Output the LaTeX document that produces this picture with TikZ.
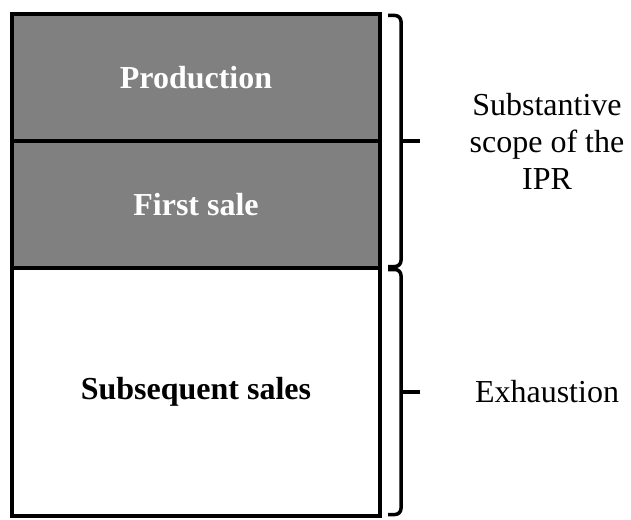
\documentclass[tikz,border=0pt]{standalone}
\usepackage{fontspec}
\setmainfont{Liberation Serif}
\usetikzlibrary{positioning,calc}
\tikzset{
    stage-box/.style = {draw=black, line width=3.5pt, rectangle, minimum width=368pt, outer sep=0pt, inner sep=0pt, font=\fontsize{32}{38}\selectfont\bfseries},
    stage-shaded/.style = {stage-box, fill=gray, text=white, minimum height=127pt},
    side-label/.style = {align=center, font=\fontsize{32}{37}\selectfont},
    brace-line/.style = {draw=black, line width=3.5pt, rounded corners=6pt},
}

\begin{document}
\begin{tikzpicture}[x=1pt, y=-1pt]
\useasboundingbox (0,0) rectangle (631,519);
\node[stage-shaded] (prod) at (196,77.5) {Production};
\node[stage-shaded, below=0pt of prod] (first) {First sale};
\node[stage-box, fill=white, minimum height=248pt, below=0pt of first] (later) {Subsequent sales};
% braces on the right
\coordinate (top-a) at ($(prod.north east)+(8,1.5)$);
\coordinate (top-b) at ($(first.south east)+(8,-1.5)$);
\coordinate (low-a) at ($(later.north east)+(8,1.5)$);
\coordinate (low-b) at ($(later.south east)+(8,-1.5)$);
\draw[brace-line] (top-a) -- ++(13,0) |- (top-b);
\draw[brace-line] (low-a) -- ++(13,0) |- (low-b);
\coordinate (tip-a) at ($(prod.south east)+(21,0)$);
\coordinate (tip-b) at ($(later.east)+(21,0)$);
\draw[brace-line] (tip-a) -- ++(19,0);
\draw[brace-line] (tip-b) -- ++(19,0);
\node[side-label] (scope) at ($(tip-a)+(146,0)$) {Substantive\\scope of the\\IPR};
\node[side-label] (exhaust) at ($(tip-b)+(146,0)$) {Exhaustion};
\end{tikzpicture}
\end{document}
